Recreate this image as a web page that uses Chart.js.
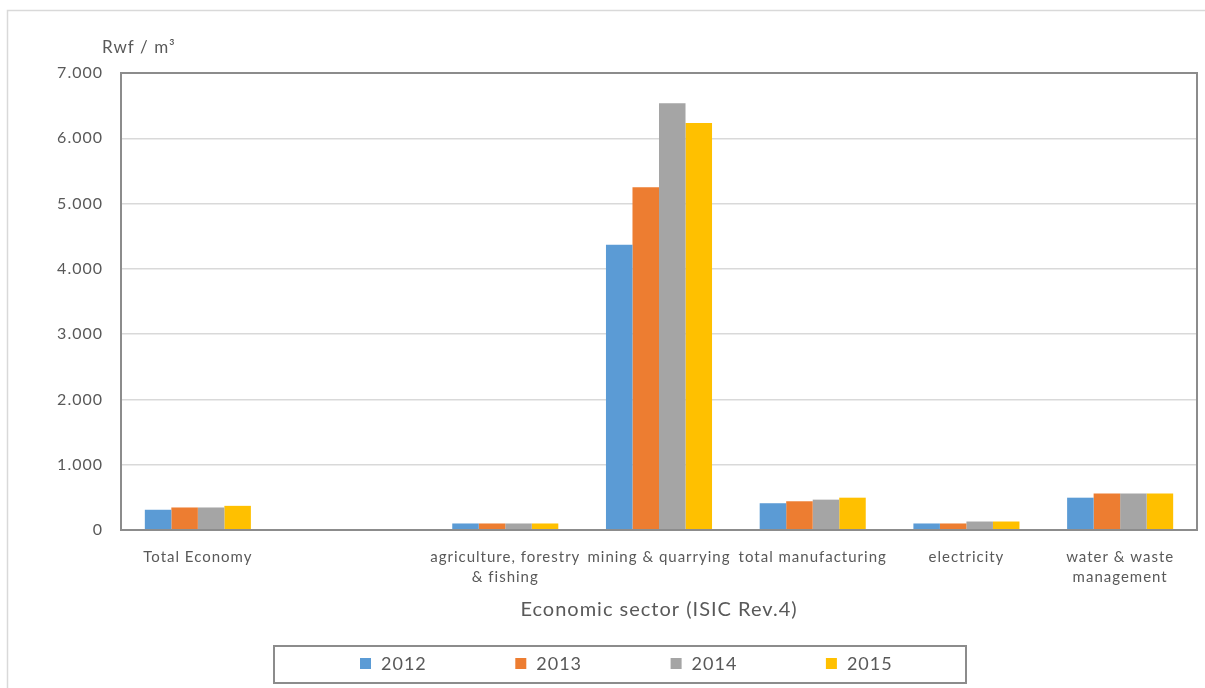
<!doctype html>
<html>
<head>
  <meta charset="utf-8" />
  <title>Rwf per m3 by economic sector</title>
  <style>
    html,body{margin:0;padding:0;background:#fff}
    #wrap{width:1205px;height:688px}
  </style>
</head>
<body>
  <div id="wrap"><canvas id="chart" width="1205" height="688"></canvas></div>

  <script src="https://cdn.jsdelivr.net/npm/chart.js@4.4.1/dist/chart.umd.min.js"></script>
  <script>
    // categories (the empty slot is kept as a gap, as in the source table)
    const sectors = [
      'Total Economy',
      '',
      ['agriculture, forestry', '& fishing'],
      'mining & quarrying',
      'total manufacturing',
      'electricity',
      ['water & waste', 'management']
    ];
    const years = ['2012', '2013', '2014', '2015'];

    // Rwf / m3
    const v2012 = [310, null, 100, 4370, 410, 100, 495];
    const v2013 = [345, null, 100, 5250, 440, 100, 560];
    const v2014 = [345, null, 100, 6535, 465, 130, 560];
    const v2015 = [370, null, 100, 6235, 495, 130, 560];

    const yTicks = [0, 1000, 2000, 3000, 4000, 5000, 6000, 7000];

    const colors = ['#5B9BD5', '#ED7D31', '#A5A5A5', '#FFC000'];
    const textColor = '#595959';
    const FONT = 'Lato, "Open Sans", Arial, sans-serif';

    const fmt = v => v === 0 ? '0' : String(v).replace(/\B(?=(\d{3})+(?!\d))/g, '.');

    // frame, plot border, unit label and boxed legend
    const decor = {
      id: 'decor',
      beforeUpdate(chart){ chart.ctx.letterSpacing = '1px'; },
      beforeDraw(chart){
        const c = chart.ctx;
        c.letterSpacing = '1px';
        c.save();
        c.fillStyle = '#fff';
        c.fillRect(0, 0, chart.width, chart.height);
        c.strokeStyle = '#d9d9d9';
        c.lineWidth = 1.5;
        c.strokeRect(7.5, 10.5, chart.width, chart.height);
        c.restore();
      },
      afterDraw(chart){
        const c = chart.ctx;
        const a = chart.chartArea;
        c.save();
        c.strokeStyle = '#8c8c8c';
        c.lineWidth = 2;
        c.strokeRect(a.left, a.top, a.right - a.left, a.bottom - a.top);

        c.fillStyle = textColor;
        c.font = '17px ' + FONT;
        c.textBaseline = 'middle';
        c.textAlign = 'left';
        c.fillText('Rwf / m\u00B3', 102, 48);

        // legend
        c.strokeRect(274, 646, 692, 37);
        c.font = '18px ' + FONT;
        chart.data.datasets.forEach((ds, i) => {
          const x = 360 + i * 155.3;
          c.fillStyle = ds.backgroundColor;
          c.fillRect(x, 658, 11, 11);
          c.fillStyle = textColor;
          c.fillText(ds.label, x + 21, 664);
        });
        c.restore();
      }
    };

    const datasets = [v2012, v2013, v2014, v2015].map((vals, i) => ({
      label: years[i],
      data: vals,
      backgroundColor: colors[i],
      borderWidth: 0,
      barPercentage: 1,
      categoryPercentage: 0.69
    }));

    new Chart(document.getElementById('chart'), {
      type: 'bar',
      data: { labels: sectors, datasets },
      plugins: [decor],
      options: {
        responsive: false,
        animation: false,
        devicePixelRatio: 1,
        layout: { padding: { top: 73, right: 8, bottom: 0, left: 0 } },
        plugins: {
          legend: { display: false },
          tooltip: { enabled: false }
        },
        scales: {
          x: {
            grid: { display: false, drawTicks: false },
            border: { display: false },
            ticks: {
              color: textColor,
              font: { family: FONT, size: 15, lineHeight: 1.333 },
              padding: 17,
              autoSkip: false,
              maxRotation: 0,
              minRotation: 0
            },
            title: {
              display: true,
              text: 'Economic sector (ISIC Rev.4)',
              color: textColor,
              font: { family: FONT, size: 20 },
              padding: { top: 0, bottom: 66 }
            },
            afterFit(s){ s.height = 158; }
          },
          y: {
            min: 0,
            max: 7000,
            grid: { color: '#d9d9d9', lineWidth: 1.5, drawTicks: false },
            border: { display: false },
            afterBuildTicks(s){ s.ticks = yTicks.map(v => ({ value: v })); },
            ticks: {
              color: textColor,
              font: { family: FONT, size: 16 },
              padding: 18,
              callback: v => fmt(v)
            },
            afterFit(s){ s.width = 121; }
          }
        }
      }
    });
  </script>
</body>
</html>
